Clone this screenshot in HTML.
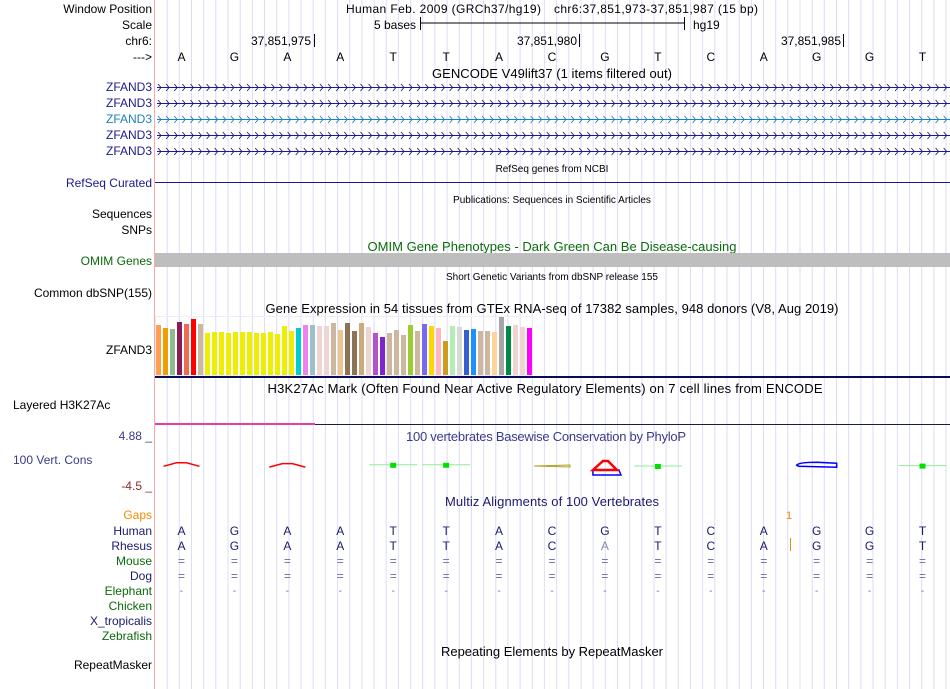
<!DOCTYPE html>
<html><head><meta charset="utf-8"><style>
body{margin:0;background:#fff;}
svg{display:block;font-family:"Liberation Sans",sans-serif;}
</style></head><body>
<svg id="main" width="950" height="689" viewBox="0 0 950 689">
<g id="grid"></g>
<line x1="154.5" y1="0" x2="154.5" y2="689" stroke="#f7a8a8"/>
<g font-size="12" text-anchor="end">
<text x="152" y="13" fill="#000">Window Position</text>
<text x="152" y="29" fill="#000">Scale</text>
<text x="152" y="45" fill="#000">chr6:</text>
<text x="152" y="61" fill="#000">---&gt;</text>
<text x="152" y="91" fill="#1a1a8c">ZFAND3</text>
<text x="152" y="107" fill="#1a1a8c">ZFAND3</text>
<text x="152" y="123" fill="#1f7fbf">ZFAND3</text>
<text x="152" y="139" fill="#1a1a8c">ZFAND3</text>
<text x="152" y="155" fill="#1a1a8c">ZFAND3</text>
<text x="152" y="187" fill="#1a1a8c">RefSeq Curated</text>
<text x="152" y="218" fill="#000">Sequences</text>
<text x="152" y="234" fill="#000">SNPs</text>
<text x="152" y="265" fill="#0a6a0a">OMIM Genes</text>
<text x="152" y="297" fill="#000">Common dbSNP(155)</text>
<text x="152" y="354" fill="#000">ZFAND3</text>
<text x="13" y="409" fill="#000" text-anchor="start">Layered H3K27Ac</text>
<text x="152" y="440" fill="#3a3a8c">4.88 _</text>
<text x="13" y="464" fill="#3a3a8c" text-anchor="start">100 Vert. Cons</text>
<text x="152" y="490" fill="#8c2a2a">-4.5 _</text>
<text x="152" y="519" fill="#f08c00">Gaps</text>
<text x="152" y="535" fill="#1a1a6c">Human</text>
<text x="152" y="550" fill="#1a1a6c">Rhesus</text>
<text x="152" y="565" fill="#0a6a0a">Mouse</text>
<text x="152" y="580" fill="#1a1a6c">Dog</text>
<text x="152" y="595" fill="#0a6a0a">Elephant</text>
<text x="152" y="610" fill="#0a6a0a">Chicken</text>
<text x="152" y="625" fill="#1a1a6c">X_tropicalis</text>
<text x="152" y="640" fill="#0a6a0a">Zebrafish</text>
<text x="152" y="669" fill="#000">RepeatMasker</text>
</g>
<g font-size="13" text-anchor="middle">
<text x="346" y="13" font-size="12" text-anchor="start" textLength="195" fill="#000">Human Feb. 2009 (GRCh37/hg19)</text>
<text x="554" y="13" font-size="12" text-anchor="start" textLength="204" fill="#000">chr6:37,851,973-37,851,987 (15 bp)</text>
<text x="552" y="78" fill="#000" textLength="240">GENCODE V49lift37 (1 items filtered out)</text>
<text x="552" y="172" font-size="10" fill="#000">RefSeq genes from NCBI</text>
<text x="552" y="203" font-size="10" fill="#000">Publications: Sequences in Scientific Articles</text>
<text x="552" y="251" fill="#0a6a0a" textLength="369">OMIM Gene Phenotypes - Dark Green Can Be Disease-causing</text>
<text x="552" y="280" font-size="10" fill="#000">Short Genetic Variants from dbSNP release 155</text>
<text x="552" y="313" fill="#000" textLength="573">Gene Expression in 54 tissues from GTEx RNA-seq of 17382 samples, 948 donors (V8, Aug 2019)</text>
<text x="545" y="393" fill="#000" textLength="555">H3K27Ac Mark (Often Found Near Active Regulatory Elements) on 7 cell lines from ENCODE</text>
<text x="546" y="441" fill="#3a3a8c" textLength="280">100 vertebrates Basewise Conservation by PhyloP</text>
<text x="552" y="506" fill="#1a1a6c" textLength="214">Multiz Alignments of 100 Vertebrates</text>
<text x="552" y="656" fill="#000" textLength="222">Repeating Elements by RepeatMasker</text>
</g>
<g font-size="12">
<text x="416" y="29" text-anchor="end">5 bases</text>
<line x1="420" y1="23" x2="684" y2="23" stroke="#000"/>
<line x1="420.5" y1="17" x2="420.5" y2="30" stroke="#000"/>
<line x1="684.5" y1="17" x2="684.5" y2="30" stroke="#000"/>
<text x="693" y="29">hg19</text>
<text x="311" y="45" text-anchor="end">37,851,975</text>
<line x1="314.5" y1="34" x2="314.5" y2="47" stroke="#000"/>
<text x="577" y="45" text-anchor="end">37,851,980</text>
<line x1="579.5" y1="34" x2="579.5" y2="47" stroke="#000"/>
<text x="841" y="45" text-anchor="end">37,851,985</text>
<line x1="843.5" y1="34" x2="843.5" y2="47" stroke="#000"/>
</g>
<g id="bases" font-size="12" text-anchor="middle"></g>
<g id="genes"></g>
<line x1="155" y1="182.5" x2="950" y2="182.5" stroke="#1a1a8c"/>
<rect x="155" y="253" width="795" height="14" fill="#bebebe"/>
<g id="gtex"></g>
<rect x="155" y="376" width="795" height="2" fill="#0a0a5a"/>
<line x1="155" y1="424.5" x2="950" y2="424.5" stroke="#1a1a4c"/>
<line x1="155" y1="424" x2="315" y2="424" stroke="#e8409a" stroke-width="2"/>
<g id="cons"></g>
<g id="multiz" font-size="12" text-anchor="middle"></g>
</svg>
<script>
const NS='http://www.w3.org/2000/svg';
function mk(tag,attrs,parent,txt){const e=document.createElementNS(NS,tag);for(const k in attrs)e.setAttribute(k,attrs[k]);if(txt!==undefined)e.textContent=txt;parent.appendChild(e);return e;}
const seq=['A','G','A','A','T','T','A','C','G','T','C','A','G','G','T'];
const rhesus=['A','G','A','A','T','T','A','C','A','T','C','A','G','G','T'];
const gtexValues=[51,48,47,54,52,57,52,43,44,44,43,44,44,44,43,43,44,42,50,45,48,51,51,50,50,53,46,53,45,53,49,43,39,43,46,41,51,45,52,50,48,35,50,49,46,47,45,45,44,60,50,51,49,48];
const gtexColors=['#ff9f4f','#efa000','#8fbc8f','#8b1a5b','#ee6a50','#ff0000','#cdb79e','#eeee00','#eeee00','#eeee00','#eeee00','#eeee00','#eeee00','#eeee00','#eeee00','#eeee00','#eeee00','#eeee00','#eeee00','#eeee00','#00cdcd','#ee82ee','#9ac0cd','#eed5d2','#eed5d2','#cdb79e','#eec591','#8b7355','#8b7355','#cdaa7d','#eed5d2','#b452cd','#7d26cd','#cdb79e','#cdb79e','#cdb79e','#9acd32','#cdb79e','#7b68ee','#ffd700','#ffb6c1','#cd9b1d','#b4eeb4','#d9d9d9','#3a5fcd','#1e90ff','#cdb79e','#cdb79e','#ffd39b','#a6a6a6','#008b45','#eed5d2','#eed5d2','#ff00ff'];
const consValues=[0.3,0,0.1,0,0.3,0.3,0,0,0,0,0,0,0.2,0,0.1];
const consColors=['red',null,'red',null,'lime','lime',null,'#b0a020','tri','lime',null,null,'blue',null,'lime'];
const X0=155,X1=949,BW=(X1-X0)/15;
const bx=i=>X0+BW*(i+0.5);
const grid=document.getElementById('grid');
for(let x=X0+12.17;x<950;x+=12.17){const l=mk('line',{x1:x.toFixed(1),y1:0,x2:x.toFixed(1),y2:689,stroke:'#dcdcf5'},grid);

}
const bases=document.getElementById('bases');
seq.forEach((b,i)=>{const t=mk('text',{x:bx(i),y:61},bases,b);

});
const genes=document.getElementById('genes');
[87,103,119,135,151].forEach((y,k)=>{const c=k==2?'#1f7fbf':'#1a1a8c';
const g=mk('g',{},genes);


mk('line',{x1:157,y1:y+0.5,x2:950,y2:y+0.5,stroke:c},g);
let d='';for(let x=160;x<950;x+=8.1){d+=`M${(x-2).toFixed(1)} ${y-3}L${(x+1).toFixed(1)} ${y+0.5}L${(x-2).toFixed(1)} ${y+4}`;}
mk('path',{d:d,stroke:c,fill:'none','stroke-width':0.9},g);});
const gtex=document.getElementById('gtex');
const gy=v=>376-v;
gtexValues.forEach((v,i)=>{const r=mk('rect',{x:156+i*7,y:gy(v),width:5,height:v,fill:gtexColors[i]},gtex);

});
mk('rect',{x:155.5,y:316.5,width:377,height:59,fill:'none',stroke:'#eeeeee'},gtex);
const cons=document.getElementById('cons');
const cy=v=>466-v*4;
consValues.forEach((v,i)=>{const c=consColors[i];if(!c)return;const x=bx(i),y=cy(v);let e;
if(c==='red'){e=mk('path',{d:`M${x-18} ${y+1.5}L${x-5} ${y-2}L${x+5} ${y-2}L${x+18} ${y+1.5}`,stroke:'red',fill:'none','stroke-width':1.5},cons);}
else if(c==='tri'){e=mk('g',{},cons);
mk('path',{d:`M${x-12} ${y+4}L${x+14} ${y+4}L${x+16} ${y+9}L${x-12} ${y+9}Z`,stroke:'blue',fill:'none','stroke-width':1.5},e);
mk('path',{d:`M${x-12} ${y+4}L${x-2} ${y-5}L${x+3} ${y-5}L${x+12} ${y+4}Z`,stroke:'red',fill:'none','stroke-width':2.5},e);}
else if(c==='lime'){e=mk('g',{},cons);mk('line',{x1:x-24,y1:y,x2:x+24,y2:y,stroke:'#90ee90'},e);mk('rect',{x:x-3,y:y-2,width:6,height:5,fill:'#00e000'},e);}
else if(c==='blue'){e=mk('path',{d:`M${x-20} ${y}Q${x-18} ${y-3} ${x} ${y-3}L${x+20} ${y-2}L${x+20} ${y+2}L${x-18} ${y+1}Z`,stroke:'blue',fill:'none','stroke-width':1.5},cons);}
else{e=mk('path',{d:`M${x-18} ${y}L${x+18} ${y-1}L${x+18} ${y+1}Z`,stroke:c,fill:'none'},cons);}

});
const mz=document.getElementById('multiz');
const gapT=mk('text',{x:789,y:519,fill:'#f08c00','font-size':11},mz,'1');


mk('line',{x1:790.5,y1:538,x2:790.5,y2:551,stroke:'#f08c00'},mz);
seq.forEach((b,i)=>{const x=bx(i);
const h=mk('text',{x:x,y:535,fill:'#1a1a6c'},mz,b);


const r=mk('text',{x:x,y:550,fill:rhesus[i]===b?'#1a1a6c':'#8a8ab0'},mz,rhesus[i]);


const m=mk('text',{x:x,y:565,fill:'#6a6aa0'},mz,'=');


const d=mk('text',{x:x,y:580,fill:'#6a6aa0'},mz,'=');


const e=mk('text',{x:x,y:594,fill:'#6a6aa0','font-size':10},mz,'-');

});
</script>
</body></html>
